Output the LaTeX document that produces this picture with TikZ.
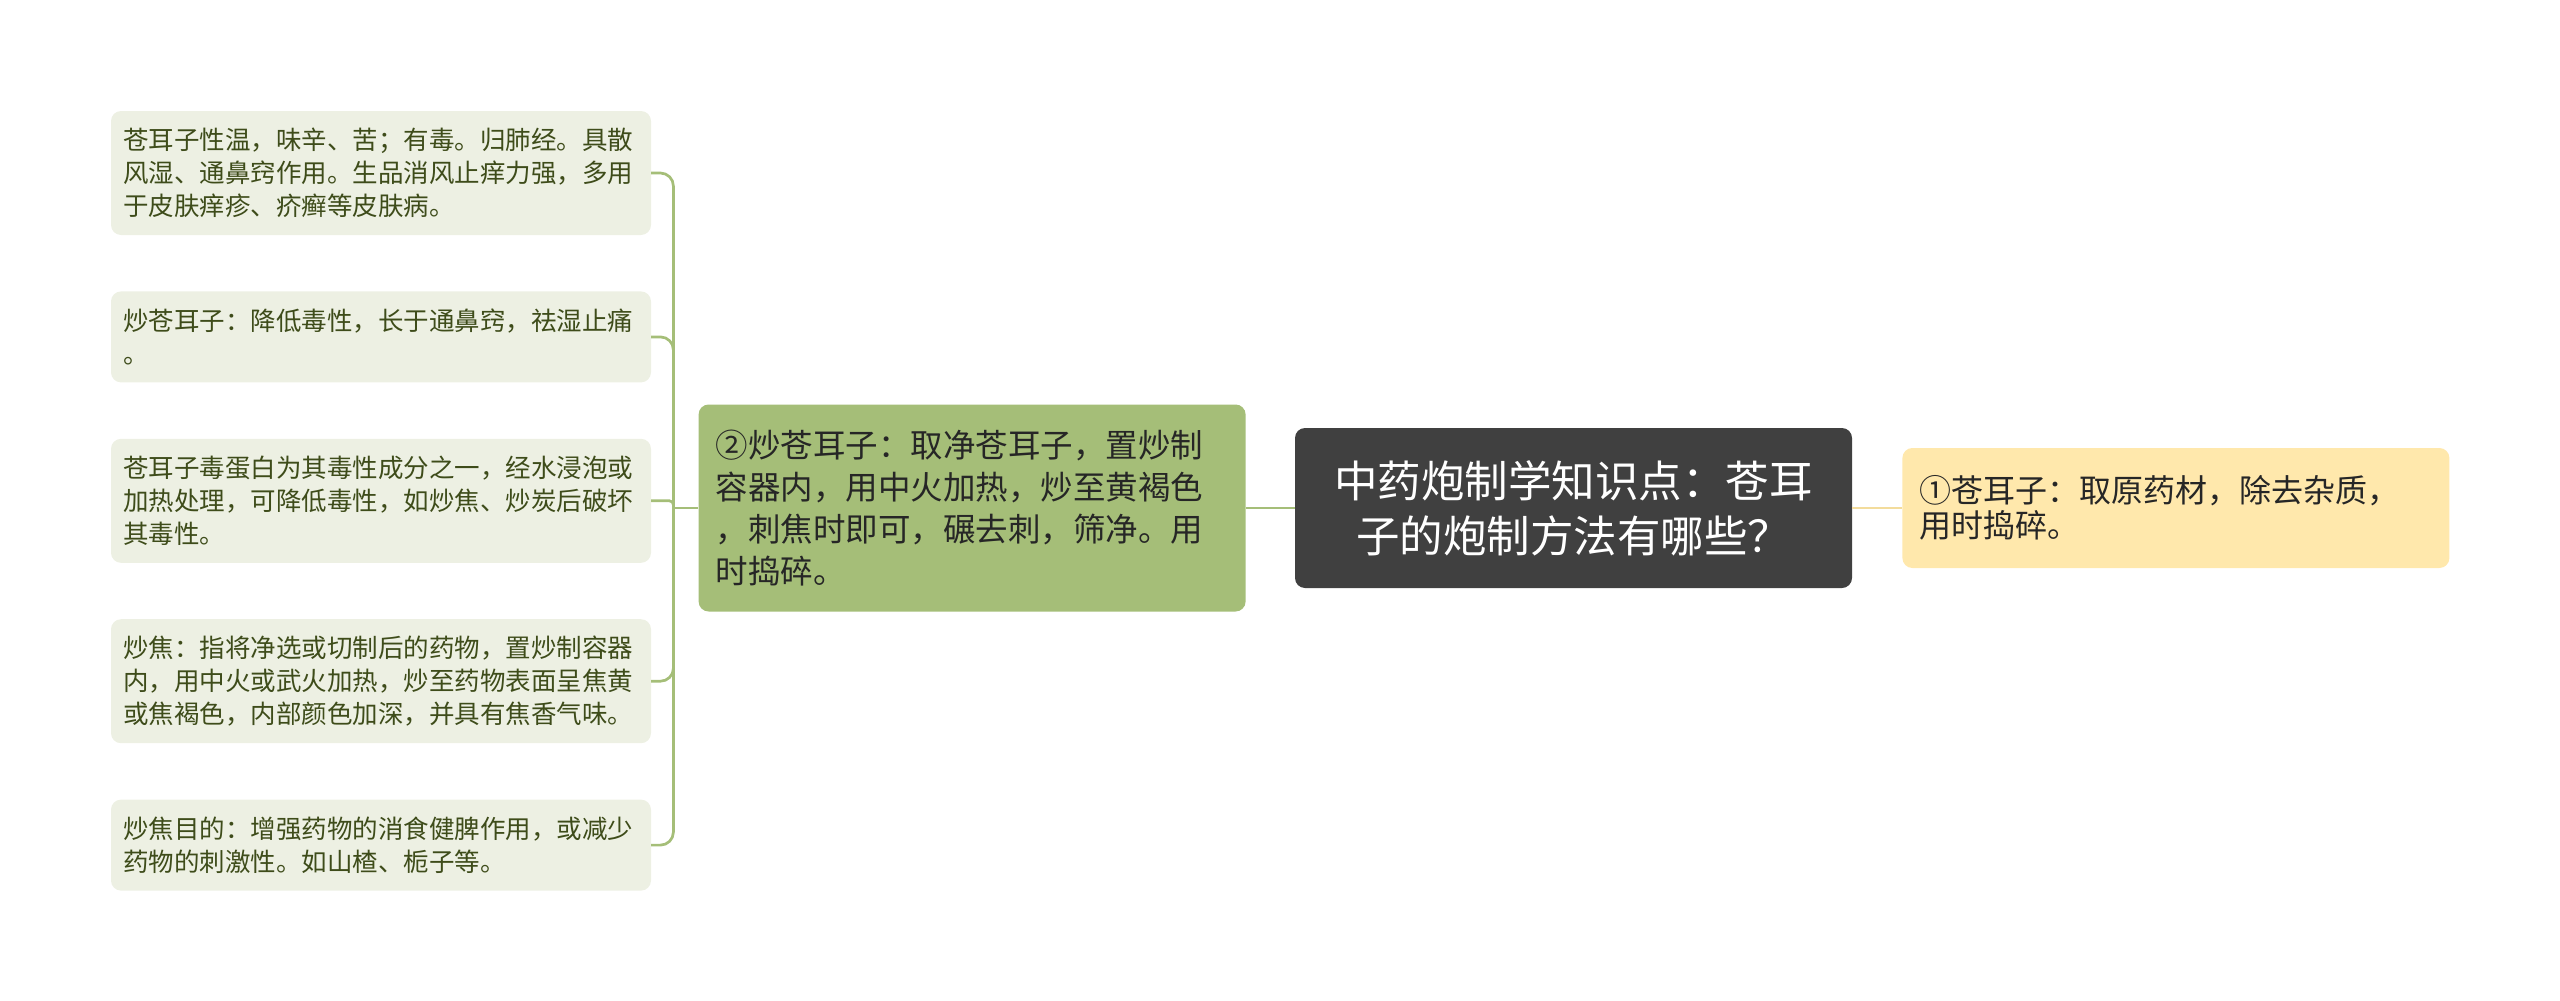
\documentclass[tikz,border=0pt]{standalone}
\usepackage{fontspec}
\setmainfont{Noto Sans CJK SC}
\usepackage{tikz}
\usetikzlibrary{positioning}

\definecolor{leaffill}{HTML}{EDF0E3}
\definecolor{leaftext}{HTML}{3E4C1A}
\definecolor{midfill}{HTML}{A5BE78}
\definecolor{rootfill}{HTML}{404040}
\definecolor{rightfill}{HTML}{FFE8AC}
\definecolor{greenline}{HTML}{A5BE78}
\definecolor{yellowline}{HTML}{F3DC9C}

\begin{document}
\begin{tikzpicture}[x=1pt, y=-1pt,
    leaf/.style={fill=leaffill, text=leaftext, rounded corners=10pt,
      inner xsep=12pt, inner ysep=0pt, text width=516pt, align=left,
      font=\fontsize{25.5pt}{33pt}\selectfont},
    midbox/.style={fill=midfill, text=black!85, rounded corners=10pt,
      inner xsep=17pt, inner ysep=0pt, text width=513pt, align=left,
      minimum height=207pt, font=\fontsize{32.5pt}{41.7pt}\selectfont},
    rootbox/.style={fill=rootfill, text=white, rounded corners=10pt,
      inner xsep=28.5pt, inner ysep=0pt, text width=500pt, align=center,
      minimum height=160pt, font=\fontsize{43.5pt}{55pt}\selectfont},
    rightbox/.style={fill=rightfill, text=black!85, rounded corners=10pt,
      inner xsep=17pt, inner ysep=0pt, text width=513pt, align=left,
      minimum height=120pt, font=\fontsize{32pt}{35pt}\selectfont},
    greenlink/.style={draw=greenline, line width=2.7pt},
    yellowlink/.style={draw=yellowline, line width=2.7pt}]
  \useasboundingbox (0,0) rectangle (2560,1001);

  \node[rootbox] (root) at (1573.5,508) {中药炮制学知识点：苍耳\\子的炮制方法有哪些？};
  \node[midbox, left = 49pt of root] (mid) {②炒苍耳子：取净苍耳子，置炒制\\容器内，用中火加热，炒至黄褐色\\，刺焦时即可，碾去刺，筛净。用\\时捣碎。};
  \node[rightbox, right = 50pt of root] (first) {①苍耳子：取原药材，除去杂质，\\用时捣碎。};

  \node[leaf, minimum height=124pt] (l1) at (381,173) {苍耳子性温，味辛、苦；有毒。归肺经。具散\\风湿、通鼻窍作用。生品消风止痒力强，多用\\于皮肤痒疹、疥癣等皮肤病。};
  \node[leaf, minimum height=91pt, below = 56pt of l1] (l2) {炒苍耳子：降低毒性，长于通鼻窍，祛湿止痛\\。};
  \node[leaf, minimum height=124pt, below = 56pt of l2] (l3) {苍耳子毒蛋白为其毒性成分之一，经水浸泡或\\加热处理，可降低毒性，如炒焦、炒炭后破坏\\其毒性。};
  \node[leaf, minimum height=124pt, below = 56pt of l3] (l4) {炒焦：指将净选或切制后的药物，置炒制容器\\内，用中火或武火加热，炒至药物表面呈焦黄\\或焦褐色，内部颜色加深，并具有焦香气味。};
  \node[leaf, minimum height=91pt, below = 56pt of l4] (l5) {炒焦目的：增强药物的消食健脾作用，或减少\\药物的刺激性。如山楂、栀子等。};

  \coordinate[left = 25pt of mid.west] (jl);

  \draw [greenlink, rounded corners=13pt] (l1.east) -| (jl);
  \draw [greenlink, rounded corners=13pt] (l2.east) -| (jl);
  \draw [greenlink, rounded corners=4pt] (l3.east) -| (jl);
  \draw [greenlink, rounded corners=13pt] (l4.east) -| (jl);
  \draw [greenlink, rounded corners=13pt] (l5.east) -| (jl);
  \draw [greenlink] (jl) -- (mid.west);
  \draw [greenlink] (mid.east) -- (root.west);
  \draw [yellowlink] (root.east) -- (first.west);
\end{tikzpicture}
\end{document}
